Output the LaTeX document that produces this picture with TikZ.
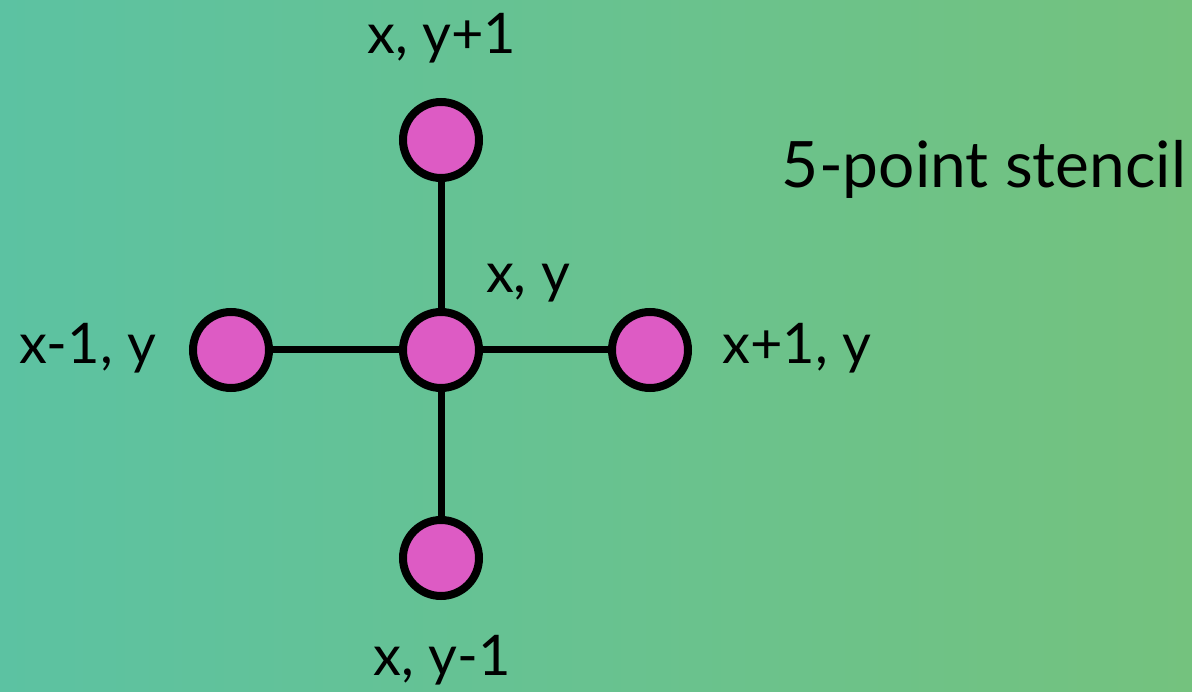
\documentclass[tikz,border=0pt]{standalone}
\usepackage{fontspec}
\setmainfont{Lato}
\definecolor{bgL}{RGB}{92,194,162}
\definecolor{bgR}{RGB}{116,194,126}
\definecolor{pt}{RGB}{221,91,196}
\begin{document}
\begin{tikzpicture}[x=1pt,y=-1pt,
  pt/.style={circle,draw=black,line width=8pt,fill=pt,minimum size=76pt,inner sep=0pt},
  conn/.style={draw=black,line width=7pt},
  lbl/.style={font=\fontsize{56}{66}\selectfont,text=black,inner sep=0pt}]
\shade[left color=bgL,right color=bgR] (0,0) rectangle (1192,692);
\useasboundingbox (0,0) rectangle (1192,692);
\node[pt] (c) at (441,350) {};
\node[pt] (n) at (441,140) {};
\node[pt] (s) at (441,558) {};
\node[pt] (w) at (231,350) {};
\node[pt] (e) at (650,350) {};
\draw[conn] (c) -- (n);
\draw[conn] (c) -- (s);
\draw[conn] (c) -- (w);
\draw[conn] (c) -- (e);
\node[lbl] (ln) at (442,38) {x, y+1};
\node[lbl] (lc) at (528,283) {x, y};
\node[lbl] (lw) at (88,348) {x-1, y};
\node[lbl] (le) at (797,348) {x+1, y};
\node[lbl] (ls) at (442,660) {x, y-1};
\node[lbl,font=\fontsize{64}{76}\selectfont] (title) at (984,169) {5-point stencil};
\end{tikzpicture}
\end{document}
